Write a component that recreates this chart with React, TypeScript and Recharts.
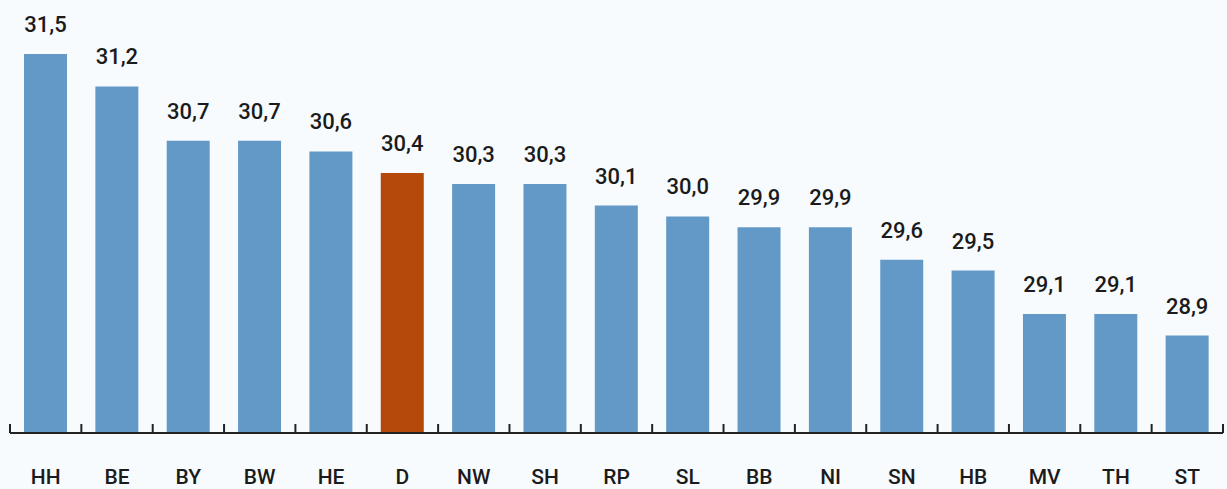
import React from "react";
import { BarChart, Bar, XAxis, YAxis, Cell, LabelList } from "recharts";

// Länder (Kürzel) und Werte, absteigend sortiert
const laender = ["HH", "BE", "BY", "BW", "HE", "D", "NW", "SH", "RP", "SL", "BB", "NI", "SN", "HB", "MV", "TH", "ST"];
const werte = [31.5, 31.2, 30.7, 30.7, 30.6, 30.4, 30.3, 30.3, 30.1, 30.0, 29.9, 29.9, 29.6, 29.5, 29.1, 29.1, 28.9];
const hervorgehoben = "D"; // Bundesdurchschnitt
const yBereich = [28, 31.5];

const daten = laender.map((land, i) => ({ land, wert: werte[i] }));

const WIDTH = 1227;
const HEIGHT = 489;
const MARGIN = { top: 54, right: 4, left: 10, bottom: 0 };
const BLAU = "#6399c6";
const ORANGE = "#b5480b";
const TEXT = "#1b1b1b";
const FONT = "Roboto, 'Open Sans', sans-serif";

const plotBreite = WIDTH - MARGIN.left - MARGIN.right;
const band = plotBreite / laender.length;

const fmt = (v: number) => v.toFixed(1).replace(".", ",");

// Beschriftung + Teilstrich an den Kategoriegrenzen
function Tick(props: any) {
  const { x, y, payload, index } = props;
  const links = x - band / 2;
  const rechts = x + band / 2;
  return (
    <g>
      <line x1={links} x2={links} y1={y} y2={y - 9} stroke="#222" strokeWidth={2} />
      {index === laender.length - 1 && (
        <line x1={rechts} x2={rechts} y1={y} y2={y - 9} stroke="#222" strokeWidth={2} />
      )}
      <text x={x} y={y + 51} textAnchor="middle" fill={TEXT} fontSize={21} fontWeight={500} fontFamily={FONT}>
        {payload.value}
      </text>
    </g>
  );
}

export default function App() {
  return (
    <div style={{ position: "absolute", left: 0, top: 0, width: WIDTH, height: HEIGHT, background: "#f8fbfe" }}>
      <BarChart width={WIDTH} height={HEIGHT} data={daten} margin={MARGIN} barCategoryGap={0}>
        <XAxis
          dataKey="land"
          height={HEIGHT - 433}
          interval={0}
          tickLine={false}
          tickSize={0}
          tickMargin={0}
          axisLine={{ stroke: "#222", strokeWidth: 2 }}
          tick={<Tick />}
        />
        <YAxis hide domain={yBereich} allowDataOverflow />
        <Bar dataKey="wert" barSize={43} isAnimationActive={false}>
          {daten.map((d) => (
            <Cell key={d.land} fill={d.land === hervorgehoben ? ORANGE : BLAU} />
          ))}
          <LabelList
            dataKey="wert"
            position="top"
            offset={22}
            formatter={(v: any) => fmt(Number(v))}
            style={{ fill: TEXT, fontSize: 22, fontWeight: 500, fontFamily: FONT }}
          />
        </Bar>
      </BarChart>
    </div>
  );
}
